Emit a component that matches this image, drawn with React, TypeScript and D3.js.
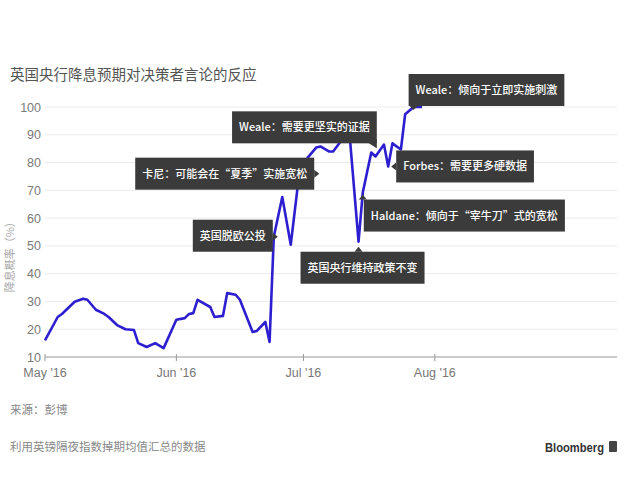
import * as React from 'react';
import { line, scaleLinear, scaleTime, select, timeParse, timeMonth, timeFormat } from 'd3';

// daily rate-cut probability
const dates = [
    "2016-05-01", "2016-05-04", "2016-05-05", "2016-05-08", "2016-05-10", "2016-05-11",
    "2016-05-13", "2016-05-15", "2016-05-16", "2016-05-18", "2016-05-20", "2016-05-22",
    "2016-05-23", "2016-05-25", "2016-05-27", "2016-05-29", "2016-06-01", "2016-06-03",
    "2016-06-04", "2016-06-05", "2016-06-06", "2016-06-09", "2016-06-10", "2016-06-12",
    "2016-06-13", "2016-06-15", "2016-06-16", "2016-06-19", "2016-06-20", "2016-06-22",
    "2016-06-23", "2016-06-24", "2016-06-26", "2016-06-28", "2016-06-30", "2016-07-02",
    "2016-07-04", "2016-07-05", "2016-07-07", "2016-07-08", "2016-07-10", "2016-07-12",
    "2016-07-14", "2016-07-15", "2016-07-17", "2016-07-18", "2016-07-20", "2016-07-21",
    "2016-07-22", "2016-07-24", "2016-07-25", "2016-07-27", "2016-07-29"
];
const probability = [
    16, 24.4, 25.5, 29.9, 31, 30.6,
    27, 25.5, 24.4, 21.5, 20, 19.7,
    15, 13.6, 15, 13.2, 23.4, 24,
    25.5, 25.8, 30.6, 28, 24.4, 24.8,
    33, 32.4, 30.6, 19, 19.4, 22.6,
    15.4, 53.3, 67.6, 50.4, 76, 81.8,
    85.4, 85.8, 84, 84, 88, 88,
    51.5, 69.2, 83.6, 82.2, 86.5, 78.6,
    86.9, 84.7, 97.4, 100, 100
];

const yTicks = [10, 20, 30, 40, 50, 60, 70, 80, 90, 100];

// annotation texts and the day they point at
const noteTexts = [
    "Weale：倾向于立即实施刺激",
    "Weale：需要更坚实的证据",
    "卡尼：可能会在“夏季”实施宽松",
    "英国脱欧公投",
    "英国央行维持政策不变",
    "Haldane：倾向于“宰牛刀”式的宽松",
    "Forbes：需要更多硬数据"
];
const noteDates = ["2016-07-27", "2016-07-12", "2016-06-30", "2016-06-24", "2016-07-14", "2016-07-15", "2016-07-21"];

// box placement relative to the anchor point
const noteLayout = [
    { dx: -5, dy: -33, pointer: "bottom" },
    { dx: -118, dy: -29, pointer: "bottomRight" },
    { dx: -164, dy: -16, pointer: "right" },
    { dx: -81, dy: -17, pointer: "right" },
    { dx: -58, dy: 10, pointer: "top" },
    { dx: 1, dy: 7, pointer: "top" },
    { dx: 8, dy: -16, pointer: "left" }
];

const parse = timeParse("%Y-%m-%d");
const FONT = "'Noto Sans CJK SC', 'Liberation Sans', sans-serif";
const LATIN = "'Liberation Sans', Arial, sans-serif";

const App = () => {
    const svgRef = React.useRef<SVGSVGElement>(null);

    React.useEffect(() => {
        const svg = select(svgRef.current);
        svg.selectAll("*").remove();

        const margin = { top: 107, bottom: 133, left: 45, right: 13 };
        const width = 630, height = 490;

        const xScale = scaleTime()
            .domain([parse("2016-05-01")!, parse("2016-09-13")!])
            .range([margin.left, width - margin.right]);
        const yScale = scaleLinear()
            .domain([10, 100])
            .range([height - margin.bottom, margin.top]);

        // title
        svg.append("text")
            .attr("x", 10).attr("y", 80)
            .attr("font-family", FONT).attr("font-size", 14.5)
            .attr("fill", "#555")
            .text("英国央行降息预期对决策者言论的反应");

        // grid
        const grid = svg.append("g");
        grid.selectAll("line")
            .data(yTicks.filter(t => t !== 10))
            .join("line")
            .attr("x1", margin.left).attr("x2", width - margin.right)
            .attr("y1", d => yScale(d)).attr("y2", d => yScale(d))
            .attr("stroke", "#ebebeb").attr("stroke-width", 1);

        grid.selectAll("text")
            .data(yTicks)
            .join("text")
            .attr("x", 41).attr("y", d => yScale(d) + 4.5)
            .attr("text-anchor", "end")
            .attr("font-family", LATIN).attr("font-size", 12.5)
            .attr("fill", "#7a7a7a")
            .text(d => d);

        // y title
        svg.append("text")
            .attr("transform", `translate(14, ${yScale(47)}) rotate(-90)`)
            .attr("text-anchor", "middle")
            .attr("font-family", FONT).attr("font-size", 11)
            .attr("fill", "#aaa")
            .text("降息概率（%）");

        // x axis
        const xAxis = svg.append("g");
        xAxis.append("line")
            .attr("x1", margin.left).attr("x2", width - margin.right)
            .attr("y1", yScale(10)).attr("y2", yScale(10))
            .attr("stroke", "#999").attr("stroke-width", 1);
        const months = timeMonth.range(parse("2016-05-01")!, parse("2016-08-02")!);
        const fmt = timeFormat("%b '%y");
        xAxis.selectAll(".tick")
            .data(months)
            .join("line")
            .attr("x1", d => xScale(d)).attr("x2", d => xScale(d))
            .attr("y1", yScale(10) - 3).attr("y2", yScale(10) + 4)
            .attr("stroke", "#999");
        xAxis.selectAll("text")
            .data(months)
            .join("text")
            .attr("x", d => xScale(d)).attr("y", yScale(10) + 20)
            .attr("text-anchor", "middle")
            .attr("font-family", LATIN).attr("font-size", 12.5)
            .attr("fill", "#777")
            .text(d => fmt(d));

        // line
        const points = dates.map((d, i) => [xScale(parse(d)!), yScale(probability[i])] as [number, number]);
        svg.append("path")
            .attr("d", line()(points))
            .attr("fill", "none")
            .attr("stroke", "#2d1fd0")
            .attr("stroke-width", 2.6)
            .attr("stroke-linejoin", "round");

        // annotations
        noteTexts.forEach((txt, i) => {
            const idx = dates.indexOf(noteDates[i]);
            const ax = xScale(parse(noteDates[i])!);
            const ay = yScale(probability[idx]);
            const lay = noteLayout[i];
            const g = svg.append("g");
            const rect = g.append("rect");
            const t = g.append("text")
                .attr("font-family", FONT).attr("font-size", 11)
                .attr("font-weight", 500)
                .attr("fill", "#fff")
                .text(txt);
            const tw = (t.node() as SVGTextElement).getComputedTextLength();
            const bw = tw + 14, bh = 32;
            const bx = ax + lay.dx, by = ay + lay.dy;
            rect.attr("x", bx).attr("y", by).attr("width", bw).attr("height", bh)
                .attr("fill", "#3b3b3b");
            t.attr("x", bx + 7).attr("y", by + bh / 2 + 4);

            let tri = "";
            if (lay.pointer === "right") {
                tri = `M${bx + bw},${ay - 4}L${bx + bw + 5},${ay}L${bx + bw},${ay + 4}Z`;
            } else if (lay.pointer === "left") {
                tri = `M${bx},${ay - 4}L${bx - 5},${ay}L${bx},${ay + 4}Z`;
            } else if (lay.pointer === "top") {
                tri = `M${ax - 4},${by}L${ax},${by - 5}L${ax + 4},${by}Z`;
            } else if (lay.pointer === "bottom") {
                tri = `M${ax - 4},${by + bh}L${ax},${by + bh + 4}L${ax + 4},${by + bh}Z`;
            } else {
                tri = `M${bx + bw - 8},${by + bh}L${bx + bw},${by + bh + 5}L${bx + bw},${by + bh - 4}Z`;
            }
            g.append("path").attr("d", tri).attr("fill", "#3b3b3b");
        });

        // footer
        svg.append("text")
            .attr("x", 10).attr("y", 414)
            .attr("font-family", FONT).attr("font-size", 11.5)
            .attr("fill", "#888")
            .text("来源：彭博");
        svg.append("text")
            .attr("x", 10).attr("y", 451)
            .attr("font-family", FONT).attr("font-size", 11.5)
            .attr("fill", "#888")
            .text("利用英镑隔夜指数掉期均值汇总的数据");
        svg.append("text")
            .attr("x", 545).attr("y", 452)
            .attr("font-family", LATIN).attr("font-size", 13)
            .attr("font-weight", "bold")
            .attr("textLength", 59)
            .attr("lengthAdjust", "spacingAndGlyphs")
            .attr("fill", "#333")
            .text("Bloomberg");
        svg.append("rect")
            .attr("x", 609).attr("y", 441).attr("width", 8).attr("height", 11)
            .attr("rx", 1)
            .attr("fill", "#444");
    }, []);

    return (
        <div style={{ position: 'absolute', left: 0, top: 0, width: 630, height: 490, background: '#fff' }}>
            <svg ref={svgRef} width={630} height={490} />
        </div>
    );
};

export default App;
